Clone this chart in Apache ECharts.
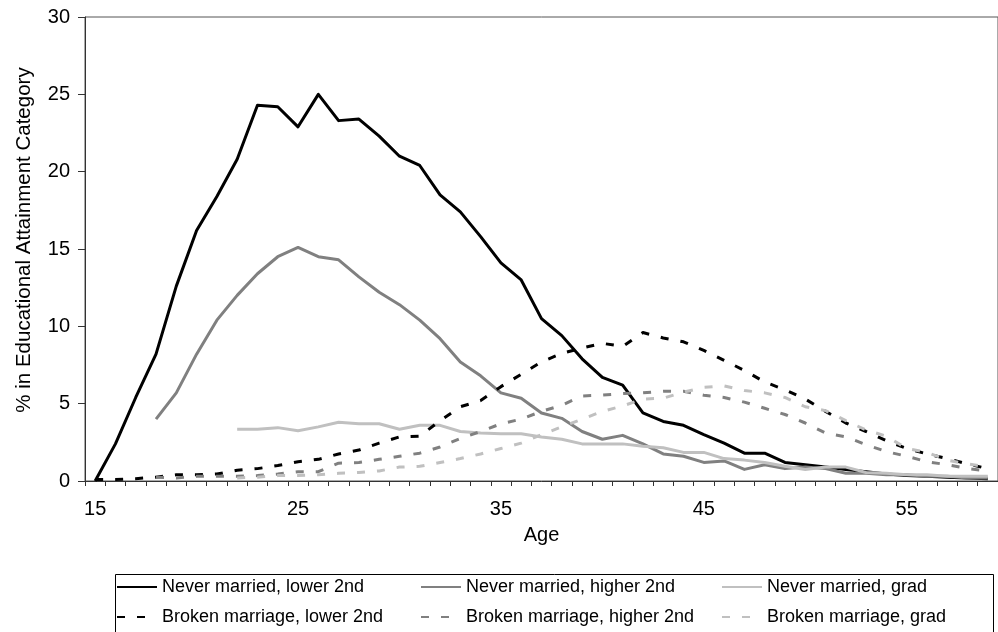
<!DOCTYPE html>
<html>
<head>
<meta charset="utf-8">
<script src="https://cdn.jsdelivr.net/npm/echarts@6/dist/echarts.min.js"></script>
<style>
html,body{margin:0;padding:0;background:#fff;}
#chart{width:998px;height:632px;}
</style>
</head>
<body>
<div id="chart"></div>
<script>
const ages = [];
for (let a = 15; a <= 59; a++) ages.push(String(a));

const seriesNames = [
  'Never married, lower 2nd',
  'Never married, higher 2nd',
  'Never married, grad',
  'Broken marriage, lower 2nd',
  'Broken marriage, higher 2nd',
  'Broken marriage, grad'
];

// ages 15..59
const neverLower = [0, 2.4, 5.4, 8.2, 12.6, 16.2, 18.4, 20.8, 24.3, 24.2, 22.9, 25.0, 23.3, 23.4, 22.3, 21.0, 20.4, 18.5, 17.4, 15.8, 14.1, 13.0, 10.5, 9.4, 7.9, 6.7, 6.2, 4.4, 3.85, 3.6, 3.0, 2.45, 1.8, 1.8, 1.2, 1.05, 0.9, 0.75, 0.6, 0.45, 0.35, 0.3, 0.25, 0.2, 0.15];
const neverHigher = [null, null, null, 4.0, 5.7, 8.2, 10.4, 12.0, 13.4, 14.5, 15.1, 14.5, 14.3, 13.2, 12.2, 11.4, 10.4, 9.2, 7.7, 6.8, 5.7, 5.35, 4.4, 4.05, 3.2, 2.7, 2.95, 2.4, 1.75, 1.6, 1.2, 1.3, 0.75, 1.05, 0.8, 0.9, 0.8, 0.5, 0.5, 0.4, 0.4, 0.3, 0.3, 0.2, 0.2];
const neverGrad = [null, null, null, null, null, null, null, 3.35, 3.35, 3.45, 3.25, 3.5, 3.8, 3.7, 3.7, 3.35, 3.6, 3.6, 3.2, 3.1, 3.05, 3.05, 2.85, 2.7, 2.4, 2.4, 2.4, 2.25, 2.15, 1.85, 1.85, 1.45, 1.35, 1.2, 0.95, 0.75, 0.9, 0.9, 0.55, 0.5, 0.4, 0.4, 0.3, 0.3, 0.3];
const brokenLower = [0.1, 0.1, 0.15, 0.25, 0.4, 0.4, 0.45, 0.7, 0.8, 1.0, 1.25, 1.4, 1.75, 2.0, 2.45, 2.85, 2.9, 3.9, 4.8, 5.2, 6.1, 6.9, 7.7, 8.25, 8.6, 8.9, 8.7, 9.6, 9.25, 9.0, 8.45, 7.8, 7.15, 6.4, 5.9, 5.3, 4.5, 3.75, 3.2, 2.6, 2.1, 1.75, 1.45, 1.1, 0.8];
const brokenHigher = [null, null, null, 0.25, 0.2, 0.3, 0.3, 0.3, 0.35, 0.45, 0.6, 0.6, 1.15, 1.2, 1.4, 1.6, 1.8, 2.2, 2.75, 3.2, 3.7, 4.0, 4.5, 4.9, 5.5, 5.55, 5.65, 5.7, 5.8, 5.8, 5.55, 5.4, 5.1, 4.7, 4.3, 3.75, 3.1, 2.85, 2.35, 1.9, 1.6, 1.25, 1.05, 0.8, 0.65];
const brokenGrad = [null, null, null, null, null, null, null, 0.2, 0.25, 0.35, 0.35, 0.4, 0.5, 0.55, 0.65, 0.9, 0.95, 1.2, 1.45, 1.75, 2.1, 2.45, 3.0, 3.5, 4.0, 4.5, 4.85, 5.3, 5.35, 5.75, 6.05, 6.15, 5.85, 5.7, 5.4, 4.8, 4.55, 3.9, 3.3, 2.9, 2.1, 1.85, 1.35, 1.1, 0.9];

const yTicks = [0, 5, 10, 15, 20, 25, 30];

const allData = [neverLower, neverHigher, neverGrad, brokenLower, brokenHigher, brokenGrad];
const colors = ['#000000', '#808080', '#c0c0c0', '#000000', '#808080', '#c0c0c0'];
const dashed = [false, false, false, true, true, true];

const FONT = "'Liberation Sans', Arial, sans-serif";

const chart = echarts.init(document.getElementById('chart'), null, {renderer: 'canvas'});

const legendLefts = [116, 420, 721];
const legendTops = [578, 608];
const legends = seriesNames.map((n, i) => ({
  data: [n],
  left: legendLefts[i % 3],
  top: legendTops[Math.floor(i / 3)],
  padding: 0,
  itemWidth: 40,
  itemHeight: 10,
  itemGap: 0,
  selectedMode: false,
  itemStyle: {opacity: 0},
  textStyle: {fontSize: 18, color: '#000', fontFamily: FONT}
}));

chart.setOption({
  animation: false,
  backgroundColor: '#fff',
  textStyle: {fontFamily: FONT},
  grid: {
    left: 85, top: 17, right: -5, bottom: 151,
    show: true, borderColor: '#555', borderWidth: 1, backgroundColor: 'transparent'
  },
  legend: legends,
  graphic: [{
    type: 'rect',
    left: 113, top: 572,
    shape: {width: 878, height: 80},
    style: {fill: 'none', stroke: '#000', lineWidth: 1},
    silent: true
  }],
  xAxis: {
    type: 'category',
    data: ages,
    boundaryGap: true,
    name: 'Age',
    nameLocation: 'middle',
    nameGap: 44,
    nameTextStyle: {fontSize: 20, color: '#000', fontFamily: FONT},
    axisLine: {show: true, lineStyle: {color: '#333', width: 1}},
    axisTick: {show: true, interval: 0, length: 5, lineStyle: {color: '#333'}},
    axisLabel: {interval: 9, fontSize: 20, color: '#000', margin: 18, fontFamily: FONT},
    splitLine: {show: false}
  },
  yAxis: {
    type: 'value',
    min: yTicks[0], max: yTicks[yTicks.length - 1], interval: 5,
    name: '% in Educational Attainment Category',
    nameLocation: 'middle',
    nameGap: 50,
    nameTextStyle: {fontSize: 20.5, color: '#000', fontFamily: FONT, padding: [0, 0, 0, 18]},
    axisLine: {show: true, lineStyle: {color: '#333', width: 1}},
    axisTick: {show: true, length: 7, lineStyle: {color: '#333'}},
    axisLabel: {fontSize: 20, color: '#000', margin: 15, fontFamily: FONT},
    splitLine: {show: false}
  },
  series: seriesNames.map((n, i) => ({
    name: n,
    type: 'line',
    data: allData[i],
    symbol: 'none',
    connectNulls: false,
    color: colors[i],
    lineStyle: {
      color: colors[i],
      width: 3,
      type: dashed[i] ? [8, 12] : 'solid',
      cap: 'butt',
      join: 'round'
    },
    z: 2 + i
  }))
});
</script>
</body>
</html>
